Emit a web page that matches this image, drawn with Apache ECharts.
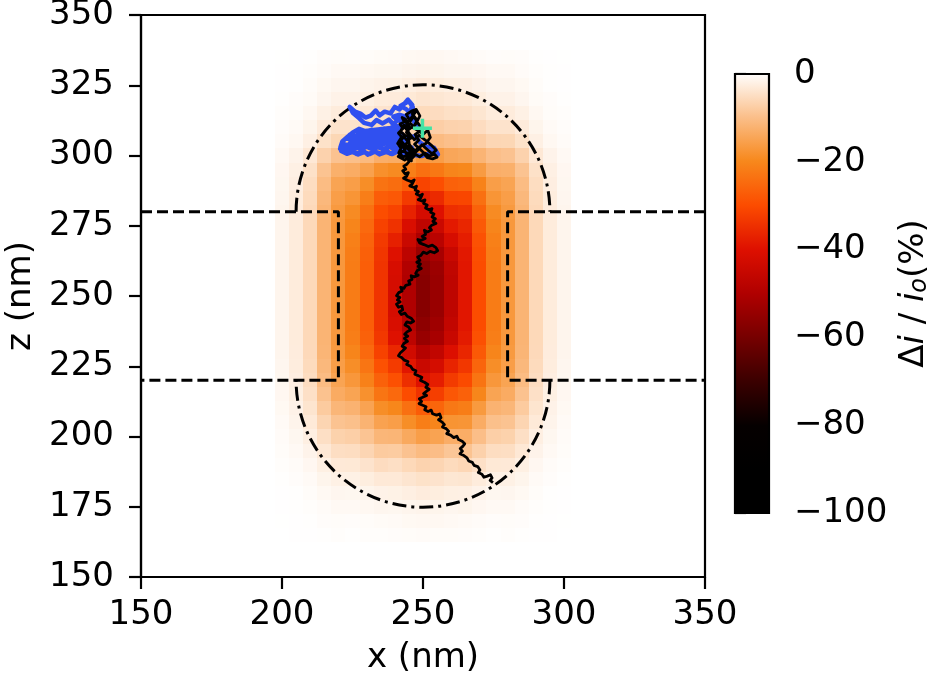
<!DOCTYPE html>
<html><head><meta charset="utf-8">
<script src="https://cdn.jsdelivr.net/npm/echarts@6/dist/echarts.min.js"></script>
<style>html,body{margin:0;padding:0;background:#fff}#c{width:934px;height:683px}</style>
</head><body><div id="c"></div>
<script>
// ---- data ----
const cellX = [200,205,210,215,220,225,230,235,240,245,250,255,260,265,270,275,280,285,290,295,300];
const cellZ = [335,330,325,320,315,310,305,300,295,290,285,280,275,270,265,260,255,250,245,240,235,230,225,220,215,210,205,200,195,190,185,180,175,170,165];
const cellValues = [
[-0.05,-0.1,-0.2,-0.4,-0.5,-0.4,-0.5,-0.7,-0.8,-1,-1.1,-1.1,-0.9,-0.8,-0.6,-0.4,-0.5,-0.4,-0.2,-0.1,-0.05],
[-0.1,-0.2,-0.3,-0.6,-0.9,-0.9,-1.1,-1.3,-1.3,-1.5,-1.7,-1.6,-1.4,-1.4,-1.2,-0.9,-0.9,-0.6,-0.3,-0.2,-0.1],
[-0.1,-0.2,-0.5,-1,-1.4,-1.4,-1.7,-2,-2.1,-2.5,-2.9,-2.7,-2.4,-2.3,-1.8,-1.4,-1.4,-1,-0.5,-0.2,-0.1],
[-0.2,-0.4,-0.7,-1.4,-2,-2,-2.4,-3,-3.1,-3.5,-4,-3.8,-3.4,-3.3,-2.7,-2,-2,-1.4,-0.7,-0.4,-0.2],
[-0.3,-0.5,-1.1,-2.2,-3,-3,-3.5,-4.3,-4.5,-5,-5.7,-5.4,-4.9,-4.7,-3.9,-3,-3,-2.2,-1.1,-0.5,-0.3],
[-0.4,-0.8,-1.6,-3.1,-4.4,-4.4,-5,-6,-6.5,-7,-8,-7.6,-7,-6.8,-5.4,-4.4,-4.4,-3.1,-1.6,-0.8,-0.4],
[-0.6,-1.1,-2.3,-4.6,-6.3,-6.5,-7.3,-8.8,-9.4,-10.2,-11.4,-10.8,-10,-9.6,-7.8,-6.4,-6.3,-4.6,-2.3,-1.1,-0.6],
[-0.9,-1.8,-3.6,-7,-9.5,-10,-11,-13,-13.5,-15,-17,-16.2,-14.5,-14,-12,-10,-9.5,-7,-3.6,-1.8,-0.9],
[-1.2,-2.3,-4.7,-9.4,-12.8,-13.5,-15.5,-18.5,-19.5,-21.5,-24,-22.7,-20.5,-20,-16.5,-13,-12.8,-9.4,-4.7,-2.3,-1.2],
[-1.3,-2.6,-5.3,-10.6,-15,-16,-19,-23.5,-24.5,-27.5,-31.4,-29.7,-26.5,-26,-21,-16,-15,-10.6,-5.3,-2.6,-1.3],
[-1.4,-2.8,-5.6,-11.3,-16,-17.6,-21.6,-27.2,-28,-33,-37.6,-35.6,-31.2,-31,-24,-17.6,-16,-11.3,-5.6,-2.8,-1.4],
[-1.5,-2.9,-5.9,-11.8,-16.7,-19.4,-23.8,-29.9,-31.5,-37,-42.2,-40,-35,-34.3,-26.4,-19.4,-16.7,-11.8,-5.9,-2.9,-1.5],
[-1.5,-3,-6,-12,-17,-20.5,-25.1,-31.6,-34.4,-41,-46.7,-44.3,-38.5,-36.3,-27.9,-20.5,-17,-12,-6,-3,-1.5],
[-1.5,-3,-6,-12,-17,-21.3,-26.2,-33,-37.4,-44.5,-50.7,-48.1,-41.8,-37.8,-29.1,-21.3,-17,-12,-6,-3,-1.5],
[-1.5,-3,-6,-12,-17,-21.8,-26.7,-33.7,-39.9,-47.5,-54.2,-51.3,-44.7,-38.6,-29.7,-21.8,-17,-12,-6,-3,-1.5],
[-1.5,-3,-6,-12,-17,-22,-27,-34,-41.6,-49.5,-56.4,-53.5,-46.5,-39,-30,-22,-17,-12,-6,-3,-1.5],
[-1.5,-3,-6,-12,-17,-22,-27,-34,-42,-50,-57,-54,-47,-39,-30,-22,-17,-12,-6,-3,-1.5],
[-1.5,-3,-6,-12,-17,-22,-27,-34,-42,-50,-57,-54,-47,-39,-30,-22,-17,-12,-6,-3,-1.5],
[-1.5,-3,-6,-12,-17,-22,-27,-34,-42,-50,-57,-54,-47,-39,-30,-22,-17,-12,-6,-3,-1.5],
[-1.5,-3,-6,-12,-17,-22,-27,-34,-41.2,-49,-55.9,-52.9,-46.1,-39,-30,-22,-17,-12,-6,-3,-1.5],
[-1.5,-3,-6,-12,-17,-21.6,-26.5,-33.3,-39.9,-47.5,-54.2,-51.3,-44.7,-38.2,-29.4,-21.6,-17,-12,-6,-3,-1.5],
[-1.5,-2.9,-5.9,-11.8,-16.7,-20.5,-25.1,-31.6,-36.1,-43,-49,-46.4,-40.4,-36.3,-27.9,-20.5,-16.7,-11.8,-5.9,-2.9,-1.5],
[-1.4,-2.8,-5.6,-11.3,-16,-18.9,-23.2,-29.2,-32.8,-39,-44.5,-42.1,-36.7,-33.5,-25.8,-18.9,-16,-11.3,-5.6,-2.8,-1.4],
[-1.3,-2.6,-5.3,-10.6,-15,-17.2,-21.1,-26.5,-29.4,-35,-39.9,-37.8,-32.9,-30.4,-23.4,-17.2,-15,-10.6,-5.3,-2.6,-1.3],
[-1.2,-2.4,-4.8,-9.6,-13.6,-15,-18.4,-23.1,-25.2,-30,-34.2,-32.4,-28.2,-26.5,-20.4,-15,-13.6,-9.6,-4.8,-2.4,-1.2],
[-1,-2,-4.1,-8.2,-11.6,-12.3,-15.1,-19,-20.2,-24,-27.4,-25.9,-22.6,-21.8,-16.8,-12.3,-11.6,-8.2,-4.1,-2,-1],
[-0.8,-1.7,-3.3,-6.6,-9.4,-9.9,-12.2,-15.3,-16,-19,-21.7,-20.5,-17.9,-17.6,-13.5,-9.9,-9.4,-6.6,-3.3,-1.7,-0.8],
[-0.6,-1.3,-2.5,-5,-7.1,-7.5,-9.2,-11.6,-11.8,-14,-16,-15.1,-13.2,-13.3,-10.2,-7.5,-7.1,-5,-2.5,-1.3,-0.6],
[-0.5,-0.9,-1.8,-3.6,-5.1,-5.3,-6.5,-8.2,-8,-9.5,-10.8,-10.3,-8.9,-9.4,-7.2,-5.3,-5.1,-3.6,-1.8,-0.9,-0.5],
[-0.3,-0.6,-1.2,-2.4,-3.4,-3.5,-4.3,-5.4,-5,-6,-6.8,-6.5,-5.6,-6.2,-4.8,-3.5,-3.4,-2.4,-1.2,-0.6,-0.3],
[-0.2,-0.4,-0.8,-1.6,-2.2,-2.2,-2.7,-3.4,-3.4,-4,-4.6,-4.3,-3.8,-3.9,-3,-2.2,-2.2,-1.6,-0.8,-0.4,-0.2],
[-0.1,-0.2,-0.5,-1,-1.4,-1.3,-1.6,-2,-2.1,-2.5,-2.9,-2.7,-2.4,-2.3,-1.8,-1.3,-1.4,-1,-0.5,-0.2,-0.1],
[-0.1,-0.2,-0.3,-0.6,-0.9,-0.9,-1.1,-1.4,-1.3,-1.5,-1.7,-1.6,-1.4,-1.6,-1.2,-0.9,-0.9,-0.6,-0.3,-0.2,-0.1],
[-0.05,-0.1,-0.2,-0.4,-0.5,-0.4,-0.5,-0.7,-0.8,-1,-1.1,-1.1,-0.9,-0.8,-0.6,-0.4,-0.5,-0.4,-0.2,-0.1,-0.05],
[0,-0.1,-0.1,-0.2,-0.3,-0.2,-0.3,-0.3,-0.4,-0.5,-0.6,-0.5,-0.5,-0.4,-0.3,-0.2,-0.3,-0.2,-0.1,-0.1,0]
];
const cellSize = 5;

// colormap (value -> colour), -100 .. 0
const cmapValues = [-100,-90,-80,-70,-60,-50,-40,-30,-20,-10,0];
const cmapColors = ['#000000','#000000','#050000','#3a0000','#760000','#b00000','#de1000','#fc4c00','#f7881c','#fbbf8a','#ffffff'];

// ticks
const xTicks = [150,200,250,300,350];
const zTicks = [150,175,200,225,250,275,300,325,350];
const cbarTicks = [-100,-80,-60,-40,-20,0];

// pore geometry (nm)
const poreLeft  = [[150,280],[220,280],[220,220],[150,220]];
const poreRight = [[350,280],[280,280],[280,220],[350,220]];
const caps = [[250,280,45,1],[250,220,45,-1]]; // centre x, centre z, radius, side (1 top, -1 bottom)

// start marker
const startPoint = [[249.8,309.7]];

// trajectories (nm)
const blueWalk = [[249.5,309.7],[247.0,311.8],[245.3,314.5],[246.4,317.2],[244.6,319.9],[243.1,318.1],[241.7,316.4],[240.0,317.3],[238.5,315.0],[236.4,315.6],[234.6,314.3],[233.2,316.0],[231.5,314.2],[229.6,313.5],[227.8,314.9],[225.9,315.6],[224.0,317.3],[225.2,315.1],[227.4,313.2],[229.1,311.6],[231.8,310.9],[233.5,312.6],[235.7,311.4],[237.9,312.8],[239.6,311.0],[241.3,313.2],[242.8,311.5],[240.9,309.3],[238.6,308.5],[236.2,309.6],[234.1,308.0],[232.0,309.2],[229.7,308.6],[227.3,309.5],[225.0,308.1],[223.2,306.6],[221.4,305.0],[220.7,302.9],[222.5,301.2],[224.8,302.6],[226.4,300.6],[228.7,301.8],[230.5,300.3],[232.8,301.6],[234.6,300.4],[236.9,301.9],[238.5,300.6],[240.7,302.1],[239.2,304.0],[237.0,305.3],[234.8,303.6],[232.6,305.4],[230.2,304.0],[228.0,305.6],[225.6,304.4],[223.6,303.8],[225.9,306.5],[228.3,307.4],[230.9,306.2],[233.4,307.0],[235.8,306.8],[238.2,307.1],[240.4,306.0],[242.6,307.6],[244.0,305.2],[242.3,303.0],[244.8,301.4],[246.9,300.2],[249.4,299.8],[251.8,300.6],[253.6,301.6],[255.3,300.4],[253.9,302.8],[251.5,303.0],[249.0,304.6],[247.2,306.9],
[221.0,301.6],[223.0,300.6],[225.0,301.3],[227.0,300.4],[229.0,301.2],[231.0,300.5],[233.0,301.4],[235.0,300.6],[237.0,301.3],[239.0,300.5],[241.0,301.4],[243.0,300.7],[245.0,301.5],[247.0,300.8],
[246.0,302.8],[244.0,302.1],[242.0,303.0],[240.0,302.2],[238.0,303.1],[236.0,302.3],[234.0,303.0],[232.0,302.2],[230.0,303.1],[228.0,302.4],[226.0,303.2],[224.0,302.3],[222.0,303.0],[220.6,302.4],
[221.5,304.2],[223.5,303.6],[225.5,304.5],[227.5,303.7],[229.5,304.6],[231.5,303.8],[233.5,304.7],[235.5,303.9],[237.5,304.6],[239.5,303.8],[241.5,304.7],[243.5,304.0],
[243.0,305.8],[241.0,305.2],[239.0,306.0],[237.0,305.3],[235.0,306.1],[233.0,305.4],[231.0,306.2],[229.0,305.4],[227.0,306.2],[225.0,305.5],[223.0,306.0],
[224.0,307.4],[226.0,306.8],[228.0,307.6],[230.0,306.9],[232.0,307.7],[234.0,307.0],[236.0,307.8],[238.0,307.1],[240.0,307.9],[242.0,307.2],
[240.5,308.8],[238.5,308.2],[236.5,309.0],[234.5,308.3],[232.5,309.1],[230.5,308.4],[228.5,309.0],[226.5,308.4],
[238.5,309.8],[240.5,310.5],[242.5,309.9],[244.5,310.8],[243.0,312.0],[241.0,312.6],[239.5,313.8],[241.5,314.5],[243.5,313.9],[245.5,315.2],[244.0,316.5],[242.0,317.6],[243.5,318.5],[245.0,319.4],[246.2,318.0],[245.8,316.4]];

const blackWalk = [[249.5,309.7],[248.2,311.5],[246.8,313.9],[245.5,312.2],[244.1,314.6],[245.9,315.8],[247.6,316.4],[248.9,314.1],[247.3,311.0],[245.0,309.3],[243.2,310.8],[242.0,308.6],[243.9,306.9],[241.5,305.2],[242.8,303.1],[244.6,304.7],[246.3,302.4],[244.9,300.8],[242.6,301.5],[241.2,299.6],[243.5,298.4],[245.8,299.9],[247.9,301.6],[249.6,303.8],[251.4,302.2],[253.2,300.6],[254.7,301.9],[252.9,303.7],[250.8,305.5],[248.6,307.2],[246.9,305.6],[245.2,307.8],[243.7,309.9],[245.6,311.4],[247.8,309.1],[250.1,307.6],[251.7,309.0],[252.6,306.4],[251.0,304.3],[248.7,303.0],[246.4,301.0],[244.2,302.6],[242.5,304.4],[243.8,301.2],[245.9,298.1],
[244.0,312.8],[242.6,313.5],[243.4,311.9],[241.8,311.2],[242.9,309.6],[241.3,308.0],[242.4,306.6],[241.0,304.3],[242.2,302.6],[241.4,300.9],[243.0,299.5],[244.6,300.2],[246.1,299.0],[247.4,300.4],[248.8,299.5],[250.6,300.9],[252.4,299.8],[254.1,300.5],[255.0,299.4],[253.4,298.8],[251.5,299.2],[249.9,301.3],[248.3,302.8],[247.0,304.0],[248.5,305.4],[247.2,307.5],[248.9,308.6],[246.6,309.8],[247.9,312.6],[246.2,314.8],[247.3,315.4],[245.7,313.2],[244.2,311.4],[245.5,309.9],[244.1,308.2],[245.8,306.2],[244.3,305.4],[243.1,306.9],[242.2,305.3],[243.6,303.6],[245.2,303.0],[246.8,302.1],[245.4,301.2],[244.3,299.3],[245.1,297.9],
[244.3,296.9],[243.2,296.2],[243.9,295.1],[242.8,294.6],[243.6,293.5],[244.8,293.9],[244.2,292.6],[243.1,291.9],[244.5,291.2],[245.8,290.7],[246.9,291.3],[246.2,289.9],[245.3,289.2],[246.8,288.6],[247.7,289.1],[247.2,287.7],[248.4,287.2],[247.6,286.3],[248.9,285.7],[249.8,286.2],[249.2,284.9],[248.3,284.3],[249.6,283.8],[250.7,284.2],[250.2,282.9],[251.5,282.4],[250.9,281.3],[252.1,280.7],[253.2,281.1],[252.7,279.8],[253.9,279.2],[253.2,278.1],[254.4,277.5],[253.5,276.6],[254.6,275.8],[253.1,275.2],[252.3,274.3],[253.0,273.5],[251.6,272.8],[250.5,273.4],[250.9,271.9],[249.7,271.2],[250.8,270.5],[249.4,269.8],[248.2,270.1],[248.8,268.9],[250.3,268.3],[251.9,267.6],[253.3,268.1],[254.6,267.2],[255.2,266.1],[254.0,265.4],[252.5,265.9],[251.3,265.1],[250.1,265.6],[249.2,264.4],[248.1,263.9],[248.9,262.7],[247.8,262.0],[249.1,261.4],[248.3,260.5],[249.4,259.8],[248.0,259.1],[247.4,258.0],[248.3,257.4],[246.9,256.8],[245.8,257.2],[246.1,255.9],[244.9,255.3],[245.4,254.2],[243.9,253.8],[243.2,252.7],[242.1,253.1],[242.6,251.8],[241.4,251.2],[240.6,250.1],[241.8,249.5],[240.9,248.6],[241.9,247.9],[240.6,247.1],[241.3,246.0],[242.5,246.4],[242.8,245.1],[241.6,244.4],[242.3,243.4],[243.6,243.9],[244.4,242.8],[245.8,242.1],[246.7,241.0],[245.6,240.4],[244.3,240.8],[243.6,239.7],[244.9,239.0],[245.6,237.9],[244.4,237.3],[243.5,236.4],[244.6,235.7],[243.4,234.9],[244.5,233.9],[243.3,233.2],[242.6,232.1],[243.8,231.5],[242.9,230.6],[242.0,229.8],[241.3,228.7],[242.4,228.1],[243.3,227.2],[244.7,226.7],[244.2,225.6],[245.6,225.0],[246.3,223.9],[247.5,223.4],[247.1,222.2],[248.4,221.6],[249.6,221.1],[249.1,219.9],[250.5,219.3],[251.7,218.5],[251.0,217.5],[252.2,216.8],[251.1,216.0],[250.2,215.3],[251.3,214.6],[249.9,214.0],[248.7,213.4],[249.5,212.5],[248.6,211.7],[249.9,211.1],[251.1,210.6],[250.6,209.5],[251.8,208.9],[252.9,209.4],[253.4,208.1],[254.8,207.6],[255.9,208.0],[256.4,206.7],[255.5,205.9],[256.8,205.1],[257.6,204.2],[256.9,203.4],[258.2,202.8],[259.1,201.9],[258.4,201.0],[259.8,200.5],[260.9,199.6],[262.0,200.1],[262.6,198.9],[263.9,198.3],[264.8,197.4],[264.1,196.5],[263.2,195.7],[264.0,194.8],[263.1,193.9],[264.5,193.2],[265.6,192.4],[266.2,191.3],[267.5,190.8],[268.1,189.7],[269.4,189.3],[270.2,188.1],[269.6,187.2],[270.9,186.6],[271.6,185.5],[272.8,185.9],[273.9,186.4],[274.5,185.3],[273.8,184.4],[274.8,183.6]];

// ---- chart ----
const FONT = 'DejaVu Sans';
const FS = 34;
const LW = 2.2;
const heatData = [];
cellZ.forEach((z, i) => cellX.forEach((x, j) => heatData.push([x, z, cellValues[i][j]])));

const chart = echarts.init(document.getElementById('c'), null, {renderer: 'canvas'});
const fmtMinus = v => (v < 0 ? '\u2212' + Math.abs(v) : String(v));

const option = {
  animation: false,
  backgroundColor: '#ffffff',
  textStyle: {fontFamily: FONT, color: '#000'},
  grid: [
    {left: 141, top: 15, width: 564, height: 562, show: true, borderColor: '#000', borderWidth: LW, backgroundColor: 'transparent', containLabel: false, outerBoundsMode: 'none'},
    {left: 735, top: 74, width: 34, height: 439, show: false, containLabel: false, outerBoundsMode: 'none'}
  ],
  xAxis: [
    {gridIndex: 0, type: 'value', min: xTicks[0], max: xTicks[xTicks.length-1], interval: xTicks[1]-xTicks[0],
     name: 'x (nm)', nameLocation: 'middle', nameGap: 64,
     nameTextStyle: {fontSize: FS, fontFamily: FONT, color: '#000'},
     axisLine: {show: true, onZero: false, lineStyle: {color: '#000', width: LW}},
     axisTick: {show: true, length: 12, lineStyle: {color: '#000', width: LW}},
     axisLabel: {fontSize: FS, fontFamily: FONT, color: '#000', margin: 21},
     splitLine: {show: false}},
    {gridIndex: 1, type: 'value', min: 0, max: 1, show: false}
  ],
  yAxis: [
    {gridIndex: 0, type: 'value', min: zTicks[0], max: zTicks[zTicks.length-1], interval: zTicks[1]-zTicks[0],
     name: 'z (nm)', nameLocation: 'middle', nameGap: 103, nameRotate: 90,
     nameTextStyle: {fontSize: FS, fontFamily: FONT, color: '#000'},
     axisLine: {show: true, onZero: false, lineStyle: {color: '#000', width: LW}},
     axisTick: {show: true, length: 12, lineStyle: {color: '#000', width: LW}},
     axisLabel: {fontSize: FS, fontFamily: FONT, color: '#000', margin: 27},
     splitLine: {show: false}},
    {gridIndex: 1, type: 'value', position: 'right', min: cbarTicks[0], max: cbarTicks[cbarTicks.length-1], interval: cbarTicks[1]-cbarTicks[0],
     name: '{d|\u0394}{i|i} / {i|i}{s|o}(%)', nameLocation: 'middle', nameGap: 127, nameRotate: 90,
     nameTextStyle: {fontSize: FS, fontFamily: FONT, color: '#000',
       rich: {d: {fontSize: FS, fontFamily: FONT, color: '#000'},
              i: {fontSize: FS, fontFamily: FONT, fontStyle: 'italic', color: '#000'},
              s: {fontSize: 24, fontFamily: FONT, fontStyle: 'italic', color: '#000', verticalAlign: 'bottom', padding: [12, 0, 0, 0]}}},
     axisLine: {show: false},
     axisTick: {show: true, length: 11, lineStyle: {color: '#000', width: LW}},
     axisLabel: {fontSize: FS, fontFamily: FONT, color: '#000', margin: 25, formatter: fmtMinus},
     splitLine: {show: false}}
  ],
  visualMap: {
    type: 'continuous', show: false, seriesIndex: 0, dimension: 2,
    min: cmapValues[0], max: cmapValues[cmapValues.length-1],
    inRange: {color: cmapColors}
  },
  series: [
    { // heat map cells
      type: 'custom', xAxisIndex: 0, yAxisIndex: 0, silent: true, z: 1,
      data: heatData, encode: {x: 0, y: 1},
      renderItem: (params, api) => {
        const x = api.value(0), z = api.value(1), h = cellSize / 2;
        const a = api.coord([x - h, z + h]);
        const b = api.coord([x + h, z - h]);
        const x0 = Math.round(a[0]), y0 = Math.round(a[1]);
        const x1 = Math.round(b[0]), y1 = Math.round(b[1]);
        return {type: 'rect', shape: {x: x0, y: y0, width: x1 - x0, height: y1 - y0},
                style: {fill: api.visual('color'), stroke: null}};
      }
    },
    {type: 'line', xAxisIndex: 0, yAxisIndex: 0, data: poreLeft, symbol: 'none', silent: true, z: 3,
     lineStyle: {color: '#000', width: 3, type: [11, 5]}},
    {type: 'line', xAxisIndex: 0, yAxisIndex: 0, data: poreRight, symbol: 'none', silent: true, z: 3,
     lineStyle: {color: '#000', width: 3, type: [11, 5]}},
    { // dash-dot caps
      type: 'custom', xAxisIndex: 0, yAxisIndex: 0, silent: true, z: 3,
      data: caps, encode: {x: 0, y: 1},
      renderItem: (params, api) => {
        const c = api.coord([api.value(0), api.value(1)]);
        const r = api.size([api.value(2), 0])[0];
        const top = api.value(3) > 0;
        return {type: 'arc',
          shape: {cx: c[0], cy: c[1], r: r, startAngle: top ? Math.PI : 0, endAngle: top ? 2 * Math.PI : Math.PI, clockwise: true},
          style: {fill: 'none', stroke: '#000', lineWidth: 3, lineDash: [14, 5, 3, 5]}};
      }
    },
    {type: 'line', xAxisIndex: 0, yAxisIndex: 0, data: blueWalk, symbol: 'none', silent: true, z: 4,
     lineStyle: {color: '#3050f0', width: 4.5, join: 'round'}},
    {type: 'line', xAxisIndex: 0, yAxisIndex: 0, data: blackWalk, symbol: 'none', silent: true, z: 5,
     lineStyle: {color: '#000', width: 2.8, join: 'round'}},
    { // start marker "+"
      type: 'custom', xAxisIndex: 0, yAxisIndex: 0, silent: true, z: 6,
      data: startPoint, encode: {x: 0, y: 1},
      renderItem: (params, api) => {
        const p = api.coord([api.value(0), api.value(1)]);
        const s = 9.5;
        const st = {stroke: '#44e3a5', lineWidth: 3.5};
        return {type: 'group', children: [
          {type: 'line', shape: {x1: p[0] - s, y1: p[1], x2: p[0] + s, y2: p[1]}, style: st},
          {type: 'line', shape: {x1: p[0], y1: p[1] - s, x2: p[0], y2: p[1] + s}, style: st}
        ]};
      }
    },
    { // colour bar
      type: 'custom', xAxisIndex: 1, yAxisIndex: 1, silent: true, z: 2,
      data: [[0.5, -50]], encode: {x: 0, y: 1},
      renderItem: (params, api) => {
        const a = api.coord([0, cmapValues[cmapValues.length-1]]);
        const b = api.coord([1, cmapValues[0]]);
        const lo = cmapValues[0], hi = cmapValues[cmapValues.length-1];
        const stops = cmapValues.map((v, k) => ({offset: (hi - v) / (hi - lo), color: cmapColors[k]}));
        stops.sort((p, q) => p.offset - q.offset);
        return {type: 'rect', shape: {x: a[0], y: a[1], width: b[0] - a[0], height: b[1] - a[1]},
                style: {fill: new echarts.graphic.LinearGradient(0, 0, 0, 1, stops), stroke: '#000', lineWidth: LW}};
      }
    }
  ]
};
chart.setOption(option);
</script>
</body></html>
